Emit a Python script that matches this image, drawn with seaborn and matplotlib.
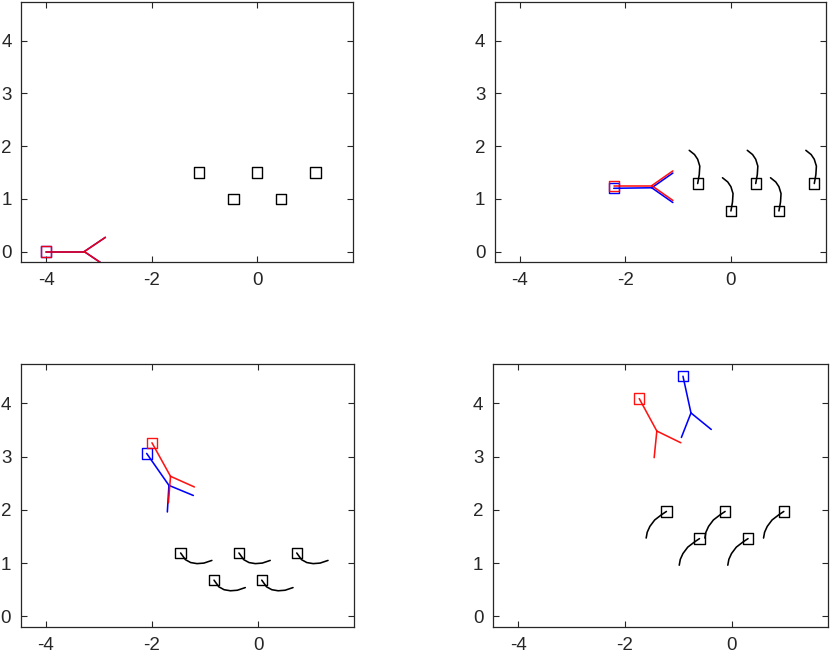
import matplotlib
matplotlib.use('Agg')
import matplotlib.pyplot as plt
import seaborn as sns
import pandas as pd

# agent bodies per panel: head, joint, arm_a, arm_b  (x, y)
red_bodies = [
    [(-4.00, 0.00), (-3.28, 0.00), (-2.88, 0.27), (-2.88, -0.27)],
    [(-2.22, 1.25), (-1.50, 1.25), (-1.10, 1.53), (-1.10, 0.97)],
    [(-2.00, 3.26), (-1.65, 2.63), (-1.20, 2.43), (-1.69, 2.13)],
    [(-1.73, 4.09), (-1.40, 3.48), (-0.95, 3.26), (-1.45, 2.98)],
]
blue_bodies = [
    [(-4.00, 0.00), (-3.28, 0.00), (-2.88, 0.27), (-2.88, -0.27)],
    [(-2.22, 1.20), (-1.50, 1.21), (-1.10, 1.49), (-1.10, 0.93)],
    [(-2.10, 3.06), (-1.68, 2.46), (-1.22, 2.27), (-1.71, 1.96)],
    [(-0.91, 4.51), (-0.76, 3.82), (-0.38, 3.51), (-0.94, 3.36)],
]

# obstacles (black squares) per panel
obs_x = [
    [-1.10, -0.45, 0.00, 0.45, 1.10],
    [-0.63, 0.00, 0.47, 0.91, 1.58],
    [-1.46, -0.83, -0.36, 0.07, 0.73],
    [-1.22, -0.60, -0.12, 0.31, 0.98],
]
obs_y = [
    [1.50, 1.00, 1.50, 1.00, 1.50],
    [1.29, 0.77, 1.29, 0.77, 1.29],
    [1.19, 0.68, 1.19, 0.68, 1.19],
    [1.97, 1.46, 1.97, 1.46, 1.97],
]

# trail shape relative to each obstacle, per panel
trail_dx = [
    [],
    [0, 0.03, 0.04, 0.00, -0.06, -0.16],
    [0, 0.09, 0.19, 0.31, 0.44, 0.59],
    [0, -0.09, -0.22, -0.31, -0.36, -0.38],
]
trail_dy = [
    [],
    [0, 0.17, 0.33, 0.46, 0.55, 0.63],
    [0, -0.125, -0.18, -0.20, -0.19, -0.14],
    [0, -0.06, -0.16, -0.28, -0.39, -0.50],
]

x_ticks = [-4, -2, 0]
y_ticks = [0, 1, 2, 3, 4]

sns.set_style('white')
plt.rcParams['font.family'] = ['Liberation Sans', 'DejaVu Sans']
plt.rcParams['axes.unicode_minus'] = False

fig = plt.figure(figsize=(8.32, 6.57), dpi=100)
positions = [
    [0.0258, 0.601, 0.3983, 0.3966],
    [0.5950, 0.601, 0.3983, 0.3966],
    [0.0252, 0.0457, 0.4003, 0.4003],
    [0.5926, 0.0457, 0.4027, 0.4003],
]


def body_frame(body):
    head, joint, a, b = body
    rows = []
    for seg, pts in enumerate([(head, joint), (joint, a), (joint, b)]):
        for p in pts:
            rows.append({'seg': seg, 'x': p[0], 'y': p[1]})
    return pd.DataFrame(rows)


for i, pos in enumerate(positions):
    ax = fig.add_axes(pos)

    # trails
    rows = []
    for k, (ox, oy) in enumerate(zip(obs_x[i], obs_y[i])):
        for dx, dy in zip(trail_dx[i], trail_dy[i]):
            rows.append({'obs': k, 'x': ox + dx, 'y': oy + dy})
    if rows:
        sns.lineplot(data=pd.DataFrame(rows), x='x', y='y', units='obs',
                     estimator=None, sort=False, color='black', lw=1.15, ax=ax)

    sns.scatterplot(x=obs_x[i], y=obs_y[i], marker='s', s=55,
                    facecolor='none', edgecolor='black', linewidth=1.0, ax=ax)

    # agents (red drawn last, slightly see-through so overlap looks crimson)
    for body, col in [(blue_bodies[i], (0, 0, 1, 1.0)), (red_bodies[i], (1, 0, 0, 0.92))]:
        sns.lineplot(data=body_frame(body), x='x', y='y', units='seg',
                     estimator=None, sort=False, color=col, lw=1.15, ax=ax)
        sns.scatterplot(x=[body[0][0]], y=[body[0][1]], marker='s', s=55,
                        facecolor='none', edgecolor=[col], linewidth=1.0, ax=ax)

    ax.set_xlim(-4.47, 1.81)
    ax.set_ylim(-0.2, 4.74)
    ax.set_xticks(x_ticks)
    ax.set_yticks(y_ticks)
    ax.set_xlabel('')
    ax.set_ylabel('')
    ax.tick_params(direction='in', length=4, width=0.8, color='#262626',
                   top=True, right=True, bottom=True, left=True,
                   labelsize=13.5, labelcolor='#262626', pad=7)
    for sp in ax.spines.values():
        sp.set_visible(True)
        sp.set_color('#262626')
        sp.set_linewidth(0.9)

fig.savefig('out.png', dpi=100)
